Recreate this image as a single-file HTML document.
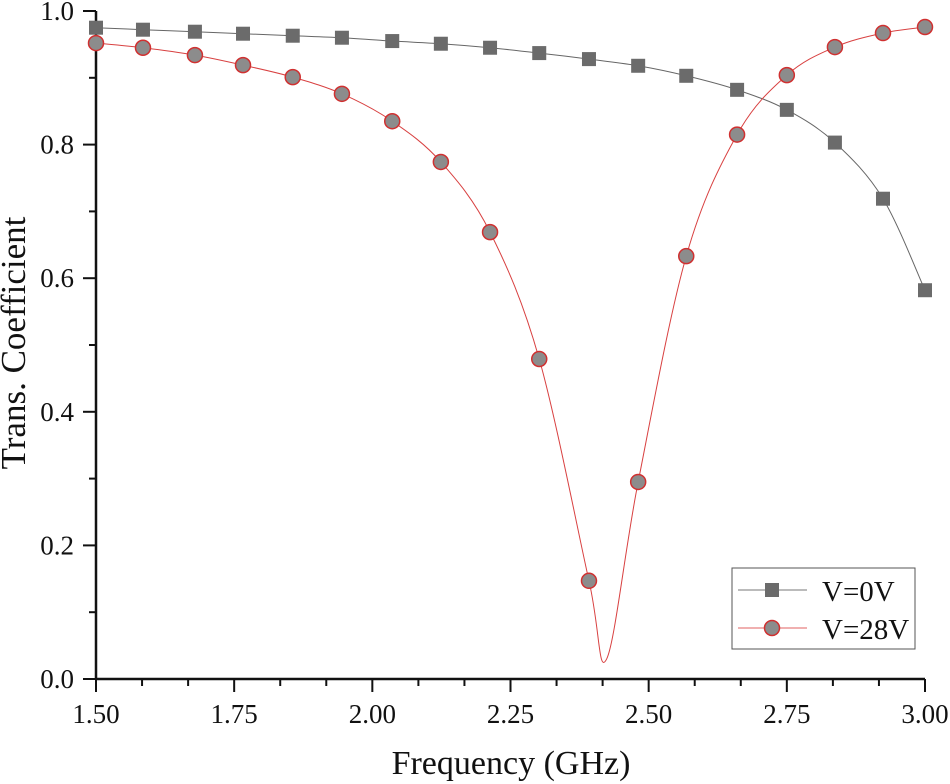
<!DOCTYPE html>
<html><head><meta charset="utf-8"><style>
html,body{margin:0;padding:0;background:#fff;}
svg{display:block;font-family:"Liberation Serif",serif;}
</style></head><body>
<svg id="chart" width="950" height="784" viewBox="0 0 950 784" xmlns="http://www.w3.org/2000/svg">
<g id="axes"></g>
<g id="series"></g>
<text x="511" y="774" font-size="34" text-anchor="middle" fill="#111">Frequency (GHz)</text>
<text transform="translate(25,343) rotate(-90)" font-size="35" text-anchor="middle" fill="#111">Trans. Coefficient</text>
<g>
<rect x="732" y="568" width="183" height="81" fill="#fff" stroke="#555" stroke-width="1"/>
<g>
<line x1="738" y1="590" x2="807" y2="590" stroke="#777" stroke-width="1"/>
<rect x="765" y="583" width="14" height="14" fill="#6b6b6b"/>
<text x="822" y="601" font-size="29" fill="#111">V=0V</text>
</g>
<g>
<line x1="738" y1="628" x2="807" y2="628" stroke="#e06060" stroke-width="1"/>
<circle cx="772" cy="628" r="7.5" fill="#8c8c8c" stroke="#d03030" stroke-width="1.5"/>
<text x="822" y="639" font-size="29" fill="#111">V=28V</text>
</g>
</g>
</svg>
<script>
const freqs=[1.5,1.585,1.679,1.766,1.856,1.945,2.036,2.124,2.213,2.302,2.392,2.481,2.568,2.660,2.750,2.837,2.924,3.0];
const v0Values=[0.975,0.972,0.969,0.966,0.963,0.960,0.955,0.951,0.945,0.937,0.928,0.918,0.903,0.882,0.852,0.803,0.719,0.582];
const v28Values=[0.952,0.945,0.934,0.919,0.901,0.876,0.835,0.774,0.669,0.479,0.147,0.295,0.633,0.815,0.904,0.946,0.967,0.976];
const dipFreq=2.424;
const dipValue=0.030;
const xTicks=["1.50","1.75","2.00","2.25","2.50","2.75","3.00"];
const yTicks=["0.0","0.2","0.4","0.6","0.8","1.0"];
const NS="http://www.w3.org/2000/svg";
const X0=96,X1=925,Y0=679,Y1=11;
const xs=f=>X0+(f-1.5)/1.5*(X1-X0);
const ys=v=>Y0-v*(Y0-Y1);
function mk(tag,attrs,parent){const e=document.createElementNS(NS,tag);for(const k in attrs)e.setAttribute(k,attrs[k]);parent.appendChild(e);return e;}
const axes=document.getElementById('axes');
const ser=document.getElementById('series');
let el=mk('line',{x1:X0,y1:Y1,x2:X0,y2:Y0,stroke:'#111','stroke-width':2.5},axes);


el=mk('line',{x1:X0-1,y1:Y0,x2:X1,y2:Y0,stroke:'#111','stroke-width':2.5},axes);


for(let i=0;i<=18;i++){const f=1.5+i*1.5/18;const x=xs(f);const major=i%3===0;
 el=mk('line',{x1:x,y1:Y0,x2:x,y2:Y0+(major?13:7),stroke:'#111','stroke-width':2},axes);
 
 
}
xTicks.forEach(t=>{el=mk('text',{x:xs(parseFloat(t)),y:723,'font-size':27,'text-anchor':'middle',fill:'#111'},axes);el.textContent=t;
 
 });
for(let i=0;i<=10;i++){const v=i*0.1;const y=ys(v);const major=i%2===0;
 el=mk('line',{x1:X0-(major?13:7),y1:y,x2:X0,y2:y,stroke:'#111','stroke-width':2},axes);
 
 
}
yTicks.forEach(t=>{el=mk('text',{x:74,y:ys(parseFloat(t))+9,'font-size':27,'text-anchor':'end',fill:'#111'},axes);el.textContent=t;
 
 });
function spline(pts){let d='M'+pts[0][0]+','+pts[0][1];
 for(let i=0;i<pts.length-1;i++){const p0=pts[Math.max(0,i-1)],p1=pts[i],p2=pts[i+1],p3=pts[Math.min(pts.length-1,i+2)];
  const c1=[p1[0]+(p2[0]-p0[0])/6,p1[1]+(p2[1]-p0[1])/6],c2=[p2[0]-(p3[0]-p1[0])/6,p2[1]-(p3[1]-p1[1])/6];
  d+=' C'+c1[0]+','+c1[1]+' '+c2[0]+','+c2[1]+' '+p2[0]+','+p2[1];}
 return d;}
const p0=freqs.map((f,i)=>[xs(f),ys(v0Values[i])]);
el=mk('path',{d:spline(p0),fill:'none',stroke:'#666','stroke-width':1},ser);


const p28=freqs.map((f,i)=>[xs(f),ys(v28Values[i])]);
const idx=freqs.findIndex(f=>f>dipFreq);
const p28c=p28.slice(0,idx).concat([[xs(dipFreq),ys(dipValue)]],p28.slice(idx));
el=mk('path',{d:spline(p28c),fill:'none',stroke:'#d84040','stroke-width':1},ser);


p0.forEach(p=>{el=mk('rect',{x:p[0]-7,y:p[1]-7,width:14,height:14,fill:'#6b6b6b'},ser);
 
 });
p28.forEach(p=>{el=mk('circle',{cx:p[0],cy:p[1],r:7.5,fill:'#8c8c8c',stroke:'#d03030','stroke-width':1.5},ser);
 
 });
</script>
</body></html>
